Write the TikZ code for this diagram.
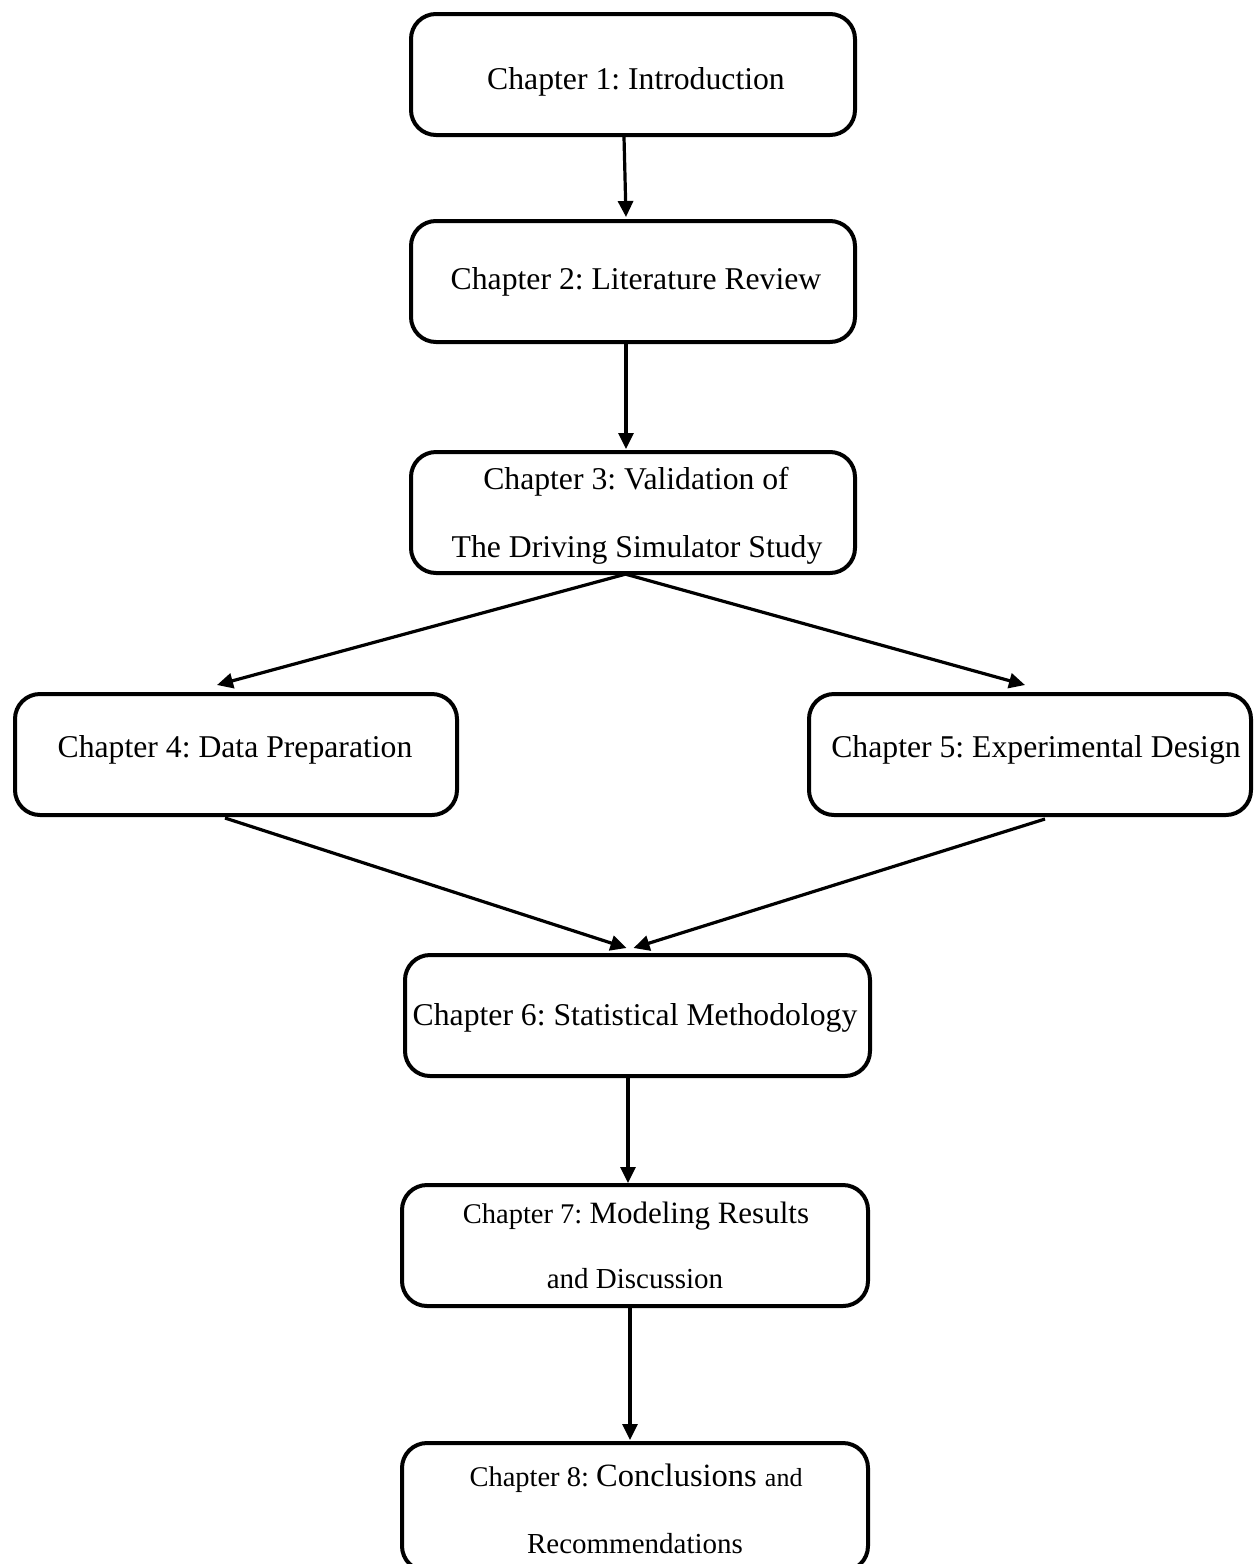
\documentclass[tikz,border=0pt]{standalone}
\usepackage{fontspec}
\setmainfont{Liberation Serif}
\usetikzlibrary{arrows.meta,calc}
\frenchspacing
\newcommand{\fsmain}{\fontsize{31.7}{38}\selectfont}
\newcommand{\fsz}[1]{\fontsize{#1}{38}\selectfont}
\begin{document}
\begin{tikzpicture}[x=1pt,y=-1pt,
  chbox/.style={draw=black,line width=4pt,rounded corners=25pt,minimum width=444pt,minimum height=121pt,inner sep=0pt,fill=white},
  chtext/.style={anchor=base,inner sep=0pt,font=\fsmain,text=black},
  flow/.style={line width=3.2pt,-{Triangle[length=16pt,width=15pt]}}]
\useasboundingbox[fill=white] (0,0) rectangle (1255,1564);
% boxes
\node[chbox] (b1) at (633,74.5) {};
\node[chbox] (b2) at (633,281.5) {};
\node[chbox] (b3) at (633,512.5) {};
\node[chbox,minimum width=442pt] (b4) at (236,754.5) {};
\node[chbox,minimum width=442pt] (b5) at (1030,754.5) {};
\node[chbox,minimum width=465pt] (b6) at (637.5,1015.5) {};
\node[chbox,minimum width=466pt] (b7) at (635,1245.5) {};
\node[chbox,minimum width=466pt,minimum height=128pt] (b8) at (635,1507) {};
% texts
\node[chtext] (t1) at (636,89) {Chapter 1: Introduction};
\node[chtext] (t2) at (636,289) {Chapter 2: Literature Review};
\node[chtext] (t3a) at (636,489) {Chapter 3: Validation of};
\node[chtext] (t3b) at (637,557) {The Driving Simulator Study};
\node[chtext] (t4) at (235,757) {Chapter 4: Data Preparation};
\node[chtext] (t5) at (1036,757) {Chapter 5: Experimental Design};
\node[chtext] (t6) at (635,1025) {Chapter 6: Statistical Methodology};
\node[chtext] (t7a) at (636,1223) {\fsz{28.5}Chapter 7: \fsz{31}Modeling Results};
\node[chtext] (t7b) at (635,1288) {\fsz{29}and Discussion};
\node[chtext] (t8a) at (636,1486) {\fsz{28.5}Chapter 8: \fsz{32.5}Conclusions \fsz{26}and};
\node[chtext] (t8b) at (635,1553) {\fsz{29}Recommendations};
% connectors
\draw[flow] ($(b1.south)+(-9,0)$) -- ($(b2.north)+(-7,-2)$);
\draw[flow] ($(b2.south)+(-7,0)$) -- ($(b3.north)+(-7,-1)$);
\draw[flow] ($(b3.south)+(-7,-1)$) -- ($(b4.north)+(-19,-7)$);
\draw[flow] ($(b3.south)+(-8,-1)$) -- ($(b5.north)+(-5,-7)$);
\draw[flow] ($(b4.south)+(-11,1)$) -- ($(b6.north)+(-11,-5)$);
\draw[flow] ($(b5.south)+(15,2)$) -- ($(b6.north)+(-4,-5)$);
\draw[flow] ($(b6.south)+(-9.5,0)$) -- ($(b7.north)+(-7,0)$);
\draw[flow] ($(b7.south)+(-5,0)$) -- ($(b8.north)+(-5,-1)$);
\end{tikzpicture}
\end{document}
